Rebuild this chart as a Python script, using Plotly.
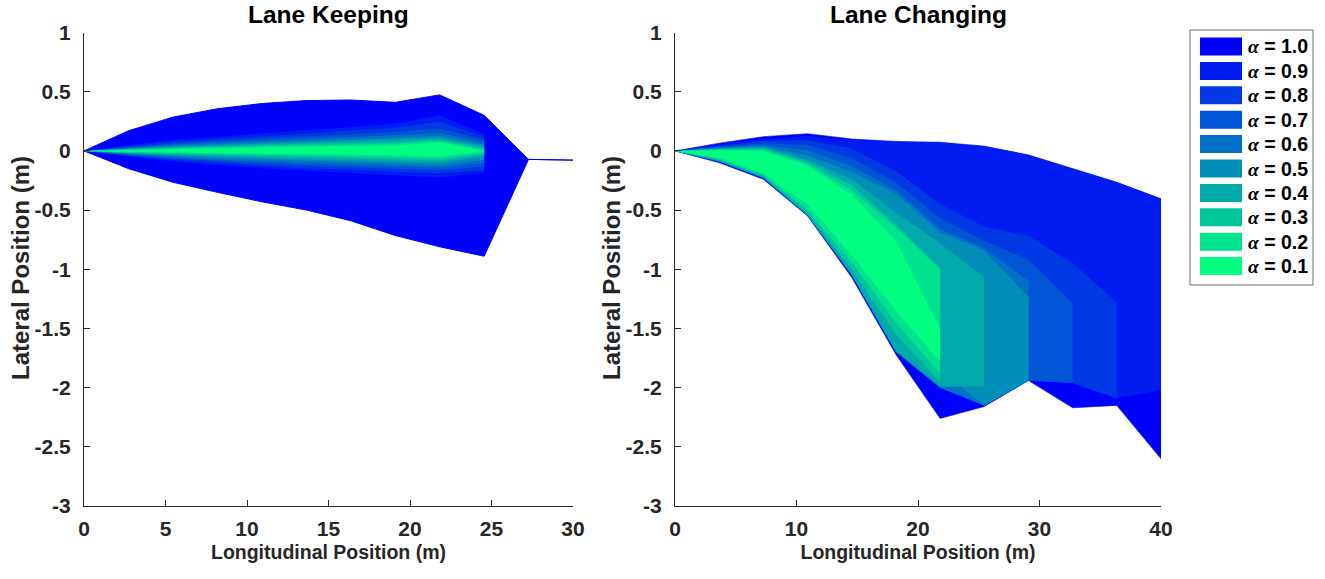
import plotly.graph_objects as go

# ---------------- data ----------------
alpha_labels = ["1.0", "0.9", "0.8", "0.7", "0.6", "0.5", "0.4", "0.3", "0.2", "0.1"]
alpha_colors = ["#0000FF", "#001CF1", "#0039E3", "#0055D5", "#0071C6",
                "#008EB8", "#00AAAA", "#00C69C", "#00E38E", "#00FF80"]

# Lane Keeping (left panel)
lk_x = [0, 2.73, 5.45, 8.18, 10.91, 13.64, 16.36, 19.09, 21.82, 24.55, 27.27, 30.0]
lk_up_10 = [0, 0.17, 0.285, 0.356, 0.40, 0.425, 0.43, 0.41, 0.473, 0.30, -0.072, -0.078]
lk_lo_10 = [0, -0.15, -0.265, -0.35, -0.43, -0.50, -0.59, -0.715, -0.81, -0.89, -0.072, -0.078]
lk_up_09 = [0, 0.05, 0.09, 0.12, 0.15, 0.175, 0.20, 0.23, 0.30, 0.14]
lk_lo_09 = [0, -0.049, -0.088, -0.12, -0.146, -0.168, -0.187, -0.205, -0.225, -0.19]
lk_up_08 = [0, 0.042, 0.075, 0.10, 0.125, 0.148, 0.17, 0.195, 0.245, 0.12]
lk_lo_08 = [0, -0.042, -0.076, -0.104, -0.127, -0.146, -0.162, -0.176, -0.188, -0.165]
lk_up_07 = [0, 0.034, 0.062, 0.085, 0.105, 0.125, 0.142, 0.16, 0.19, 0.095]
lk_lo_07 = [0, -0.036, -0.065, -0.089, -0.109, -0.126, -0.14, -0.152, -0.163, -0.13]
lk_up_06 = [0, 0.028, 0.052, 0.07, 0.088, 0.104, 0.118, 0.132, 0.15, 0.075]
lk_lo_06 = [0, -0.03, -0.055, -0.075, -0.092, -0.106, -0.119, -0.13, -0.14, -0.10]
lk_up_05 = [0, 0.023, 0.043, 0.058, 0.073, 0.086, 0.098, 0.11, 0.125, 0.055]
lk_lo_05 = [0, -0.025, -0.046, -0.062, -0.076, -0.088, -0.099, -0.109, -0.12, -0.075]
lk_up_04 = [0, 0.019, 0.035, 0.048, 0.06, 0.071, 0.081, 0.091, 0.108, 0.04]
lk_lo_04 = [0, -0.02, -0.037, -0.05, -0.061, -0.071, -0.08, -0.088, -0.10, -0.05]
lk_up_03 = [0, 0.015, 0.028, 0.039, 0.049, 0.058, 0.066, 0.075, 0.095, 0.025]
lk_lo_03 = [0, -0.016, -0.029, -0.039, -0.048, -0.056, -0.063, -0.07, -0.082, -0.03]
lk_up_02 = [0, 0.012, 0.022, 0.031, 0.039, 0.046, 0.053, 0.06, 0.083, 0.012]
lk_lo_02 = [0, -0.012, -0.021, -0.029, -0.035, -0.041, -0.047, -0.053, -0.065, -0.015]
lk_up_01 = [0, 0.009, 0.017, 0.024, 0.03, 0.035, 0.04, 0.046, 0.07, 0.0]
lk_lo_01 = [0, -0.008, -0.014, -0.019, -0.023, -0.027, -0.031, -0.035, -0.045, 0.0]

# Lane Changing (right panel)
lc_x = [0, 3.64, 7.27, 10.91, 14.55, 18.18, 21.82, 25.45, 29.09, 32.73, 36.36, 40.0]
lc_up_10 = [0, 0.065, 0.12, 0.145, 0.10, 0.08, 0.073, 0.04, -0.034, -0.15, -0.265, -0.405]
lc_lo_10 = [0, -0.10, -0.24, -0.55, -1.07, -1.72, -2.26, -2.16, -1.94, -2.17, -2.15, -2.60]
lc_up_09 = [0, 0.055, 0.10, 0.125, 0.095, 0.078, 0.07, 0.04, -0.034, -0.15, -0.265, -0.405]
lc_lo_09 = [0, -0.09, -0.23, -0.545, -1.05, -1.70, -2.0, -2.15, -1.94, -1.96, -2.09, -2.02]
lc_up_08 = [0, 0.045, 0.085, 0.09, 0.02, -0.17, -0.45, -0.64, -0.72, -0.95, -1.28]
lc_lo_08 = [0, -0.09, -0.23, -0.545, -1.05, -1.70, -2.0, -2.15, -1.94, -1.96, -2.09]
lc_up_07 = [0, 0.038, 0.065, 0.05, -0.06, -0.27, -0.57, -0.76, -0.92, -1.29]
lc_lo_07 = [0, -0.09, -0.23, -0.545, -1.05, -1.70, -2.0, -2.15, -1.94, -1.96]
lc_up_06 = [0, 0.03, 0.05, 0.005, -0.13, -0.33, -0.66, -0.82, -1.10]
lc_lo_06 = [0, -0.09, -0.23, -0.545, -1.05, -1.70, -2.0, -2.15, -1.94]
lc_up_05 = [0, 0.025, 0.04, -0.04, -0.18, -0.36, -0.69, -0.84, -1.235]
lc_lo_05 = [0, -0.09, -0.23, -0.545, -1.05, -1.70, -1.85, -2.15, -1.94]
lc_up_04 = [0, 0.02, 0.03, -0.075, -0.24, -0.52, -0.78, -1.07]
lc_lo_04 = [0, -0.085, -0.225, -0.54, -1.04, -1.69, -1.99, -1.99]
lc_up_03 = [0, 0.015, 0.02, -0.095, -0.29, -0.62, -0.99]
lc_lo_03 = [0, -0.08, -0.215, -0.53, -1.0, -1.55, -1.95]
lc_up_02 = [0, 0.01, 0.01, -0.11, -0.33, -0.65, -1.0]
lc_lo_02 = [0, -0.07, -0.205, -0.50, -0.94, -1.45, -1.88]
lc_up_01 = [0, 0.005, 0.0, -0.125, -0.37, -0.76, -1.5]
lc_lo_01 = [0, -0.06, -0.19, -0.45, -0.88, -1.35, -1.78]

lk_x_ticks = [0, 5, 10, 15, 20, 25, 30]
lc_x_ticks = [0, 10, 20, 30, 40]
y_ticks = [1, 0.5, 0, -0.5, -1, -1.5, -2, -2.5, -3]
y_tick_text = ["1", "0.5", "0", "-0.5", "-1", "-1.5", "-2", "-2.5", "-3"]

# ---------------- figure ----------------
LK_UP = [lk_up_10, lk_up_09, lk_up_08, lk_up_07, lk_up_06, lk_up_05, lk_up_04, lk_up_03, lk_up_02, lk_up_01]
LK_LO = [lk_lo_10, lk_lo_09, lk_lo_08, lk_lo_07, lk_lo_06, lk_lo_05, lk_lo_04, lk_lo_03, lk_lo_02, lk_lo_01]
LC_UP = [lc_up_10, lc_up_09, lc_up_08, lc_up_07, lc_up_06, lc_up_05, lc_up_04, lc_up_03, lc_up_02, lc_up_01]
LC_LO = [lc_lo_10, lc_lo_09, lc_lo_08, lc_lo_07, lc_lo_06, lc_lo_05, lc_lo_04, lc_lo_03, lc_lo_02, lc_lo_01]

W, H = 1325, 579
SANS = "Liberation Sans, Arial, Helvetica, sans-serif"
INK = "#262626"

fig = go.Figure()


def add_band(xvals, up, lo, color, name, xa, ya, lw):
    n = len(up)
    xs = list(xvals[:n]) + list(xvals[:n])[::-1]
    ys = list(up) + list(lo)[::-1]
    fig.add_trace(go.Scatter(
        x=xs, y=ys, mode="lines", fill="toself", fillcolor=color,
        line=dict(color=color, width=lw), name=name, hoverinfo="skip",
        showlegend=False, xaxis=xa, yaxis=ya))


for i, lab in enumerate(alpha_labels):
    lw = 1 if i == 0 else 0
    add_band(lk_x, LK_UP[i], LK_LO[i], alpha_colors[i], "α = " + lab, "x", "y", lw)
for i, lab in enumerate(alpha_labels):
    lw = 0.6 if i == 0 else 0
    add_band(lc_x, LC_UP[i], LC_LO[i], alpha_colors[i], "α = " + lab, "x2", "y2", lw)

ydom = [1 - 506 / H, 1 - 32.5 / H]
axis_common = dict(
    showline=True, linecolor=INK, linewidth=1, mirror=False,
    ticks="inside", ticklen=6, tickwidth=1, tickcolor=INK,
    showgrid=False, zeroline=False, automargin=False,
    tickfont=dict(family=SANS, size=21, color=INK, weight="bold"),
)
xtitle_font = dict(family=SANS, size=19.5, color=INK, weight="bold")
ytitle_font = dict(family=SANS, size=24, color=INK, weight="bold")

fig.update_layout(
    width=W, height=H, autosize=False,
    margin=dict(l=0, r=0, t=0, b=0, autoexpand=False),
    paper_bgcolor="white", plot_bgcolor="white",
    showlegend=False,
    xaxis=dict(domain=[84 / W, 573 / W], range=[0, 30], anchor="y",
               tickvals=lk_x_ticks, ticklabelstandoff=4,
               title=dict(text="Longitudinal Position (m)", standoff=6, font=xtitle_font),
               **axis_common),
    yaxis=dict(domain=ydom, range=[-3, 1], anchor="x",
               tickvals=y_ticks, ticktext=y_tick_text, ticklabelstandoff=8,
               **axis_common),
    xaxis2=dict(domain=[675 / W, 1161 / W], range=[0, 40], anchor="y2",
                tickvals=lc_x_ticks, ticklabelstandoff=4,
                title=dict(text="Longitudinal Position (m)", standoff=6, font=xtitle_font),
                **axis_common),
    yaxis2=dict(domain=ydom, range=[-3, 1], anchor="x2",
                tickvals=y_ticks, ticktext=y_tick_text, ticklabelstandoff=8,
                **axis_common),
)

# y-axis titles (placed as rotated annotations for exact positioning)
for cx in (21, 612):
    fig.add_annotation(text="Lateral Position (m)", xref="paper", yref="paper",
                       x=cx / W, y=1 - 268 / H, textangle=-90, showarrow=False,
                       xanchor="center", yanchor="middle", font=ytitle_font)

# subplot titles
for xr, txt in (("x domain", "Lane Keeping"), ("x2 domain", "Lane Changing")):
    fig.add_annotation(text=txt, xref=xr, yref="paper", x=0.5, y=1 - 14 / H,
                       showarrow=False, xanchor="center", yanchor="middle",
                       font=dict(family=SANS, size=24.5, color="black", weight="bold"))

# legend box (drawn manually to match the wide MATLAB swatches)
lg_left, lg_right, lg_top, lg_bottom = 1190, 1313, 30, 285
fig.add_shape(type="rect", xref="paper", yref="paper",
              x0=lg_left / W, x1=lg_right / W, y0=1 - lg_bottom / H, y1=1 - lg_top / H,
              line=dict(color="#6e6e6e", width=1), fillcolor="white", layer="above")
for k, lab in enumerate(alpha_labels):
    top = 37.5 + k * 24.4
    fig.add_shape(type="rect", xref="paper", yref="paper",
                  x0=1200 / W, x1=1242 / W, y0=1 - (top + 18) / H, y1=1 - top / H,
                  line=dict(width=0), fillcolor=alpha_colors[k], layer="above")
    fig.add_annotation(
        text='<span style="font-family:Liberation Serif"><i>α</i></span> = ' + lab,
        xref="paper", yref="paper", x=1246 / W, y=1 - (top + 9) / H,
        xanchor="left", yanchor="middle", showarrow=False,
        font=dict(family=SANS, size=19.5, color="black", weight="bold"))

fig.write_html("out.html", config={"displayModeBar": False},
               post_script="document.body.style.margin='0';")
